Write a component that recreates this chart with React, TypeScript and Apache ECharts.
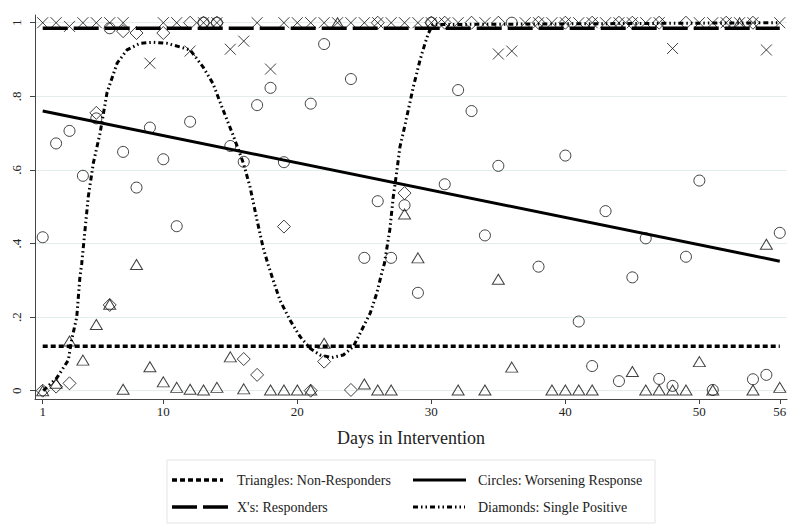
import React, { useEffect, useRef } from "react";
import * as echarts from "echarts";

const xTicks = [1, 10, 20, 30, 40, 50, 56];
const yTicks = [0, 0.2, 0.4, 0.6, 0.8, 1];

// Triangles: Non-Responders
const triangles: number[][] = [
  [1, 0.0], [2, 0.02], [3, 0.135], [4, 0.083], [5, 0.18], [6, 0.235], [7, 0.004], [8, 0.343],
  [9, 0.065], [10, 0.024], [11, 0.009], [12, 0.004], [13, 0.002], [14, 0.009], [15, 0.092],
  [16, 0.005], [18, 0.002], [19, 0.002], [20, 0.002], [21, 0.002], [22, 0.129], [23, 1.0],
  [25, 0.018], [26, 0.002], [27, 0.002], [28, 0.48], [29, 0.361], [32, 0.002], [34, 0.002],
  [35, 0.303], [36, 0.064], [39, 0.002], [40, 0.002], [41, 0.002], [42, 0.002], [45, 0.052],
  [46, 0.002], [47, 0.002], [48, 0.002], [49, 0.002], [50, 0.079], [51, 0.002], [53, 1.0],
  [54, 0.002], [55, 0.398], [56, 0.009],
];

// Circles: Worsening Response
const circles: number[][] = [
  [1, 0.417], [2, 0.672], [3, 0.706], [4, 0.584], [5, 0.74], [6, 0.985], [7, 0.649], [8, 0.552],
  [9, 0.715], [10, 0.629], [11, 0.447], [12, 0.731], [13, 1.0], [14, 1.0], [15, 0.665],
  [16, 0.622], [17, 0.776], [18, 0.823], [19, 0.621], [21, 0.78], [22, 0.942], [24, 0.847],
  [25, 0.361], [26, 0.515], [27, 0.361], [28, 0.504], [29, 0.266], [30, 1.0], [31, 0.561],
  [32, 0.817], [33, 0.76], [34, 0.422], [35, 0.611], [36, 1.0], [38, 0.337], [40, 0.639],
  [41, 0.188], [42, 0.067], [43, 0.488], [44, 0.026], [45, 0.308], [46, 0.414], [47, 0.032],
  [48, 0.013], [49, 0.364], [50, 0.571], [51, 0.002], [54, 0.031], [55, 0.043], [56, 0.429],
];

// X's: Responders
const crosses: number[][] = [
  [1, 1.0], [2, 1.0], [3, 0.99], [4, 1.0], [5, 1.0], [6, 1.0], [7, 1.0], [9, 0.89], [10, 1.0],
  [11, 1.0], [12, 0.923], [13, 1.0], [14, 1.0], [15, 0.928], [16, 0.95], [17, 1.0], [18, 0.874],
  [19, 1.0], [20, 1.0], [21, 1.0], [22, 1.0], [23, 1.0], [24, 1.0], [25, 1.0], [26, 1.0],
  [27, 1.0], [28, 1.0], [29, 1.0], [30, 1.0], [31, 1.0], [32, 1.0], [34, 1.0], [35, 0.915],
  [36, 0.923], [37, 1.0], [38, 1.0], [39, 1.0], [40, 1.0], [41, 1.0], [42, 1.0], [43, 1.0],
  [44, 1.0], [45, 1.0], [46, 1.0], [47, 1.0], [48, 0.93], [50, 1.0], [51, 1.0], [52, 1.0],
  [53, 1.0], [54, 1.0], [55, 0.926], [56, 1.0],
];

// Diamonds: Single Positive
const diamonds: number[][] = [
  [1, 0.0], [2, 0.011], [3, 0.02], [5, 0.755], [6, 0.233], [7, 0.977], [8, 0.972], [10, 0.972],
  [12, 1.0], [13, 1.0], [14, 1.0], [16, 0.086], [17, 0.043], [19, 0.446], [21, 0.0], [22, 0.079],
  [24, 0.002], [26, 1.0], [28, 0.537], [30, 1.0], [31, 1.0], [33, 1.0], [35, 1.0], [38, 1.0],
  [40, 1.0], [42, 1.0], [44, 1.0], [45, 1.0], [47, 1.0], [49, 1.0], [52, 1.0], [54, 1.0],
];

// Fitted lines
const triangleFit: number[][] = [[1, 0.121], [56, 0.121]];
const circleFit: number[][] = [[1, 0.76], [56, 0.352]];
const crossFit: number[][] = [[1, 0.985], [56, 0.985]];
const diamondFit: number[][] = [
  [1.04, 0.0], [2.04, 0.034], [2.91, 0.083], [3.16, 0.138], [3.54, 0.2], [3.78, 0.31],
  [3.91, 0.345], [4.4, 0.527], [4.78, 0.619], [5.28, 0.7], [5.8, 0.81], [6.55, 0.89],
  [7.29, 0.926], [8.26, 0.944], [9.23, 0.947], [10.28, 0.944], [11.25, 0.934], [12.0, 0.926],
  [12.96, 0.88], [13.7, 0.835], [14.46, 0.763], [15.2, 0.695], [15.97, 0.619], [16.47, 0.554],
  [16.99, 0.464], [17.44, 0.39], [17.8, 0.345], [18.2, 0.3], [18.7, 0.246], [19.45, 0.192],
  [20.2, 0.147], [20.95, 0.115], [21.7, 0.097], [22.57, 0.09], [23.43, 0.097], [24.18, 0.12],
  [24.68, 0.156], [25.43, 0.21], [25.93, 0.265], [26.3, 0.32], [26.5, 0.346], [26.9, 0.437],
  [27.16, 0.527], [27.4, 0.59], [27.66, 0.663], [27.9, 0.7], [28.28, 0.763], [28.66, 0.826],
  [29.16, 0.899], [29.53, 0.944], [29.78, 0.971], [30.1, 0.995], [56, 1.0],
];

const legendLabels = [
  "Triangles: Non-Responders",
  "Circles: Worsening Response",
  "X's: Responders",
  "Diamonds: Single Positive",
];

const FONT = "Liberation Serif";
const INK = "#111";
const hollow = { color: "rgba(0,0,0,0)", borderColor: INK, borderWidth: 1 };

export default function App() {
  const ref = useRef<HTMLDivElement>(null);
  useEffect(() => {
    const chart = echarts.init(ref.current!, null, { renderer: "svg" });
    const legendPos = [
      [237, 473],
      [478, 473],
      [237, 500],
      [478, 500],
    ];
    const titles = legendLabels.map((t, i) => ({
      text: t,
      left: legendPos[i][0],
      top: legendPos[i][1],
      padding: 0,
      textStyle: { fontSize: 14, fontFamily: FONT, fontWeight: "normal", color: "#222" },
    }));
    const option: any = {
      animation: false,
      backgroundColor: "#fff",
      textStyle: { fontFamily: FONT },
      title: titles,
      grid: { left: 35, right: 13, top: 15, bottom: 133 },
      xAxis: {
        type: "value",
        min: 0.425,
        max: 56.54,
        axisLine: { show: true, onZero: false, lineStyle: { color: "#444", width: 1 } },
        axisTick: { show: true, length: 5, customValues: xTicks, lineStyle: { color: "#444" } },
        axisLabel: { customValues: xTicks, fontSize: 13, color: "#222", fontFamily: FONT, margin: 6 },
        splitLine: { show: false },
        name: "Days in Intervention",
        nameLocation: "middle",
        nameGap: 30,
        nameTextStyle: { fontSize: 18, color: "#222", fontFamily: FONT },
      },
      yAxis: {
        type: "value",
        min: -0.0226,
        max: 1.021,
        axisLine: { show: true, onZero: false, lineStyle: { color: "#444", width: 1 } },
        axisTick: { show: true, length: 5, customValues: yTicks, lineStyle: { color: "#444" } },
        axisLabel: {
          customValues: yTicks,
          rotate: 90,
          margin: 12,
          fontSize: 13,
          color: "#222",
          fontFamily: FONT,
          formatter: (v: number) => (v === 0 ? "0" : v === 1 ? "1" : String(v).replace(/^0/, "")),
        },
        splitLine: { show: true, lineStyle: { color: "#e2eeee", width: 1 } },
      },
      series: [
        {
          type: "scatter", name: "Triangles", data: triangles, symbol: "triangle",
          symbolSize: [12, 10], itemStyle: hollow, z: 3,
        },
        {
          type: "scatter", name: "Circles", data: circles, symbol: "circle",
          symbolSize: 11, itemStyle: hollow, z: 3,
        },
        {
          type: "scatter", name: "Xs", data: crosses, symbol: "path://M0,0L10,10M0,10L10,0",
          symbolSize: 11, itemStyle: hollow, z: 3,
        },
        {
          type: "scatter", name: "Diamonds", data: diamonds, symbol: "diamond",
          symbolSize: 13, itemStyle: hollow, z: 3,
        },
        {
          type: "line", data: triangleFit, showSymbol: false, symbol: "none", z: 4,
          lineStyle: { color: "#000", width: 3.5, type: [5, 3] },
        },
        {
          type: "line", data: circleFit, showSymbol: false, symbol: "none", z: 4,
          lineStyle: { color: "#000", width: 3 },
        },
        {
          type: "line", data: crossFit, showSymbol: false, symbol: "none", z: 4,
          lineStyle: { color: "#000", width: 3.5, type: [25, 6] },
        },
        {
          type: "line", data: diamondFit, showSymbol: false, symbol: "none", z: 4,
          lineStyle: { color: "#000", width: 3, type: [5, 3, 1.5, 3, 1.5, 3] },
        },
      ],
      graphic: [
        {
          type: "rect", z: -1, shape: { x: 167, y: 460, width: 488, height: 63 },
          style: { fill: "#fff", stroke: "#e4e4e4", lineWidth: 1 },
        },
        {
          type: "line", shape: { x1: 172, y1: 480, x2: 223, y2: 480 },
          style: { stroke: "#000", lineWidth: 3.5, lineDash: [5, 3] },
        },
        {
          type: "line", shape: { x1: 413, y1: 480, x2: 466, y2: 480 },
          style: { stroke: "#000", lineWidth: 3 },
        },
        {
          type: "line", shape: { x1: 172, y1: 507, x2: 228, y2: 507 },
          style: { stroke: "#000", lineWidth: 3.5, lineDash: [25, 6] },
        },
        {
          type: "line", shape: { x1: 413, y1: 507, x2: 465, y2: 507 },
          style: { stroke: "#000", lineWidth: 3, lineDash: [5, 3, 1.5, 3, 1.5, 3] },
        },
      ],
    };
    chart.setOption(option);
    return () => chart.dispose();
  }, []);
  return <div ref={ref} style={{ position: "fixed", left: 0, top: 0, width: 800, height: 532 }} />;
}
